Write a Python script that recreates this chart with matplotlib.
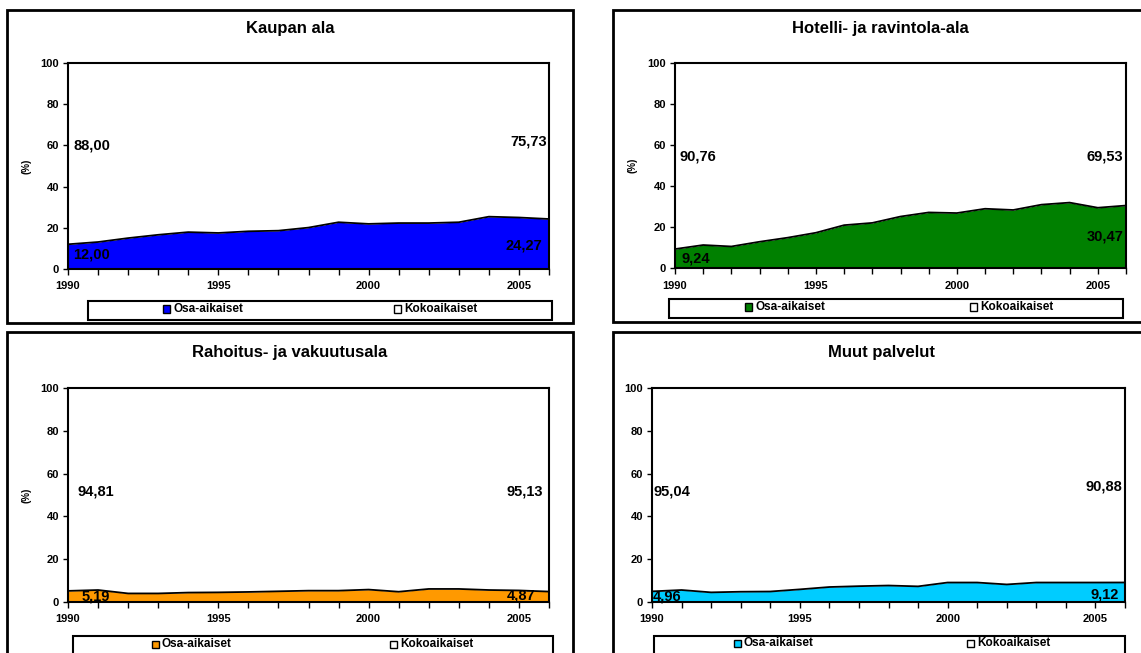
import numpy as np
import matplotlib
matplotlib.use("Agg")
import matplotlib.pyplot as plt
from matplotlib.patches import Rectangle

plt.rcParams["font.family"] = ["Liberation Sans", "DejaVu Sans"]
plt.rcParams["font.weight"] = "bold"

# data (share of part-time workers, %)
years = np.arange(1990, 2007)
titles = ["Kaupan ala", "Hotelli- ja ravintola-ala", "Rahoitus- ja vakuutusala", "Muut palvelut"]
kauppa = [12.00, 13.1, 15.0, 16.6, 17.9, 17.5, 18.3, 18.6, 20.1, 22.7, 21.9, 22.3, 22.3, 22.7, 25.4, 25.0, 24.27]
hotelli = [9.24, 11.2, 10.5, 12.8, 14.8, 17.2, 20.9, 22.0, 25.1, 27.1, 26.8, 28.9, 28.3, 30.9, 31.9, 29.4, 30.47]
rahoitus = [5.19, 5.6, 4.0, 4.0, 4.4, 4.5, 4.7, 5.0, 5.3, 5.3, 5.8, 4.8, 6.1, 6.1, 5.6, 5.4, 4.87]
muut = [4.96, 5.6, 4.5, 4.8, 4.9, 5.9, 7.0, 7.4, 7.7, 7.3, 9.1, 9.1, 8.2, 9.1, 9.1, 9.1, 9.12]
series = [kauppa, hotelli, rahoitus, muut]
colors = ["#0000FF", "#008000", "#FF9900", "#00CCFF"]
legend_names = ["Osa-aikaiset", "Kokoaikaiset"]

W, H = 1141, 653

# layout in pixels (left, top, right, bottom)
axes_px = [(68, 63, 549, 269), (675, 63, 1126, 268), (68, 388, 549, 602), (652, 388, 1125, 602)]
frame_px = [(7, 10, 573, 323), (613, 10, 1160, 322), (7, 332, 573, 670), (613, 332, 1160, 670)]
legbox_px = [(88, 301, 552, 320), (669, 299, 1123, 318), (73, 636, 553, 670), (654, 636, 1125, 670)]
legitem_px = [(163, 394, 309), (745, 970, 307), (152, 390, 644), (734, 967, 643)]
title_px = [(290, 28), (880, 28), (290, 352), (881, 352)]
ylab_px = [(26, 166), (632, 165), (26, 495), None]
# label placement: y positions (data units) and x offsets (px)
full_y = [(60, 62), (54.3, 54.3), (51.6, 51.6), (51.6, 54)]
part_y = [(6.8, 11.6), (4.5, 15.3), (2.8, 2.9), (2.5, 3.3)]
left_off = [(5, 5), (4, 6), (10, 14), (1, 1)]
right_off = [(-2, -7), (-3, -2), (-6, -14), (-3, -6)]


def fx(x):
    return x / W


def fy(y):
    return 1 - y / H


def fmt(v):
    return ("%.2f" % v).replace(".", ",")


fig = plt.figure(figsize=(W / 100, H / 100), dpi=100)

for i in range(4):
    l, t, r, b = frame_px[i]
    fig.add_artist(Rectangle((fx(l), fy(b)), (r - l) / W, (b - t) / H, transform=fig.transFigure,
                             facecolor="white", edgecolor="black", lw=2, zorder=0))

for i in range(4):
    l, t, r, b = axes_px[i]
    ax = fig.add_axes([fx(l), fy(b), (r - l) / W, (b - t) / H])
    ax.set_zorder(2)
    osa = np.array(series[i])
    ax.fill_between(years, 0, osa, color=colors[i], lw=0)
    ax.fill_between(years, osa, 100, color="white", lw=0)
    ax.plot(years, osa, color="black", lw=1.3)
    ax.set_xlim(1990, 2006)
    ax.set_ylim(0, 100)
    ax.set_xticks(years)
    ax.set_xticklabels([str(y) if y % 5 == 0 else "" for y in years])
    ax.set_yticks(np.arange(0, 101, 20))
    ax.tick_params(axis="x", length=4, width=1, pad=5, labelsize=8)
    ax.tick_params(axis="y", length=3.5, width=1, pad=3, labelsize=8)
    for s in ax.spines.values():
        s.set_linewidth(1.5)

    kok = 100 - osa
    ax.annotate(fmt(kok[0]), (1990, full_y[i][0]), xytext=(left_off[i][0], 0), textcoords="offset pixels",
                ha="left", va="center", fontsize=10.5, fontweight="bold")
    ax.annotate(fmt(kok[-1]), (2006, full_y[i][1]), xytext=(right_off[i][0], 0), textcoords="offset pixels",
                ha="right", va="center", fontsize=10.5, fontweight="bold")
    ax.annotate(fmt(osa[0]), (1990, part_y[i][0]), xytext=(left_off[i][1], 0), textcoords="offset pixels",
                ha="left", va="center", fontsize=10.5, fontweight="bold")
    ax.annotate(fmt(osa[-1]), (2006, part_y[i][1]), xytext=(right_off[i][1], 0), textcoords="offset pixels",
                ha="right", va="center", fontsize=10.5, fontweight="bold")

    tx, ty = title_px[i]
    fig.text(fx(tx), fy(ty), titles[i], ha="center", va="center", fontsize=12, fontweight="bold")
    if ylab_px[i] is not None:
        fig.text(fx(ylab_px[i][0]), fy(ylab_px[i][1]), "(%)", rotation=90, ha="center", va="center",
                 fontsize=7, fontweight="bold")

    # legend box
    l, t, r, b = legbox_px[i]
    fig.add_artist(Rectangle((fx(l), fy(b)), (r - l) / W, (b - t) / H, transform=fig.transFigure,
                             facecolor="white", edgecolor="black", lw=1.5, zorder=1))
    x1, x2, yc = legitem_px[i]
    for xs, fc, name in [(x1, colors[i], legend_names[0]), (x2, "white", legend_names[1])]:
        fig.add_artist(Rectangle((fx(xs), fy(yc + 3.5)), 7 / W, 7 / H, transform=fig.transFigure,
                                 facecolor=fc, edgecolor="black", lw=1, zorder=3))
        fig.text(fx(xs + 10), fy(yc), name, ha="left", va="center", fontsize=8.5, fontweight="bold")

fig.savefig("out.png", dpi=100)
